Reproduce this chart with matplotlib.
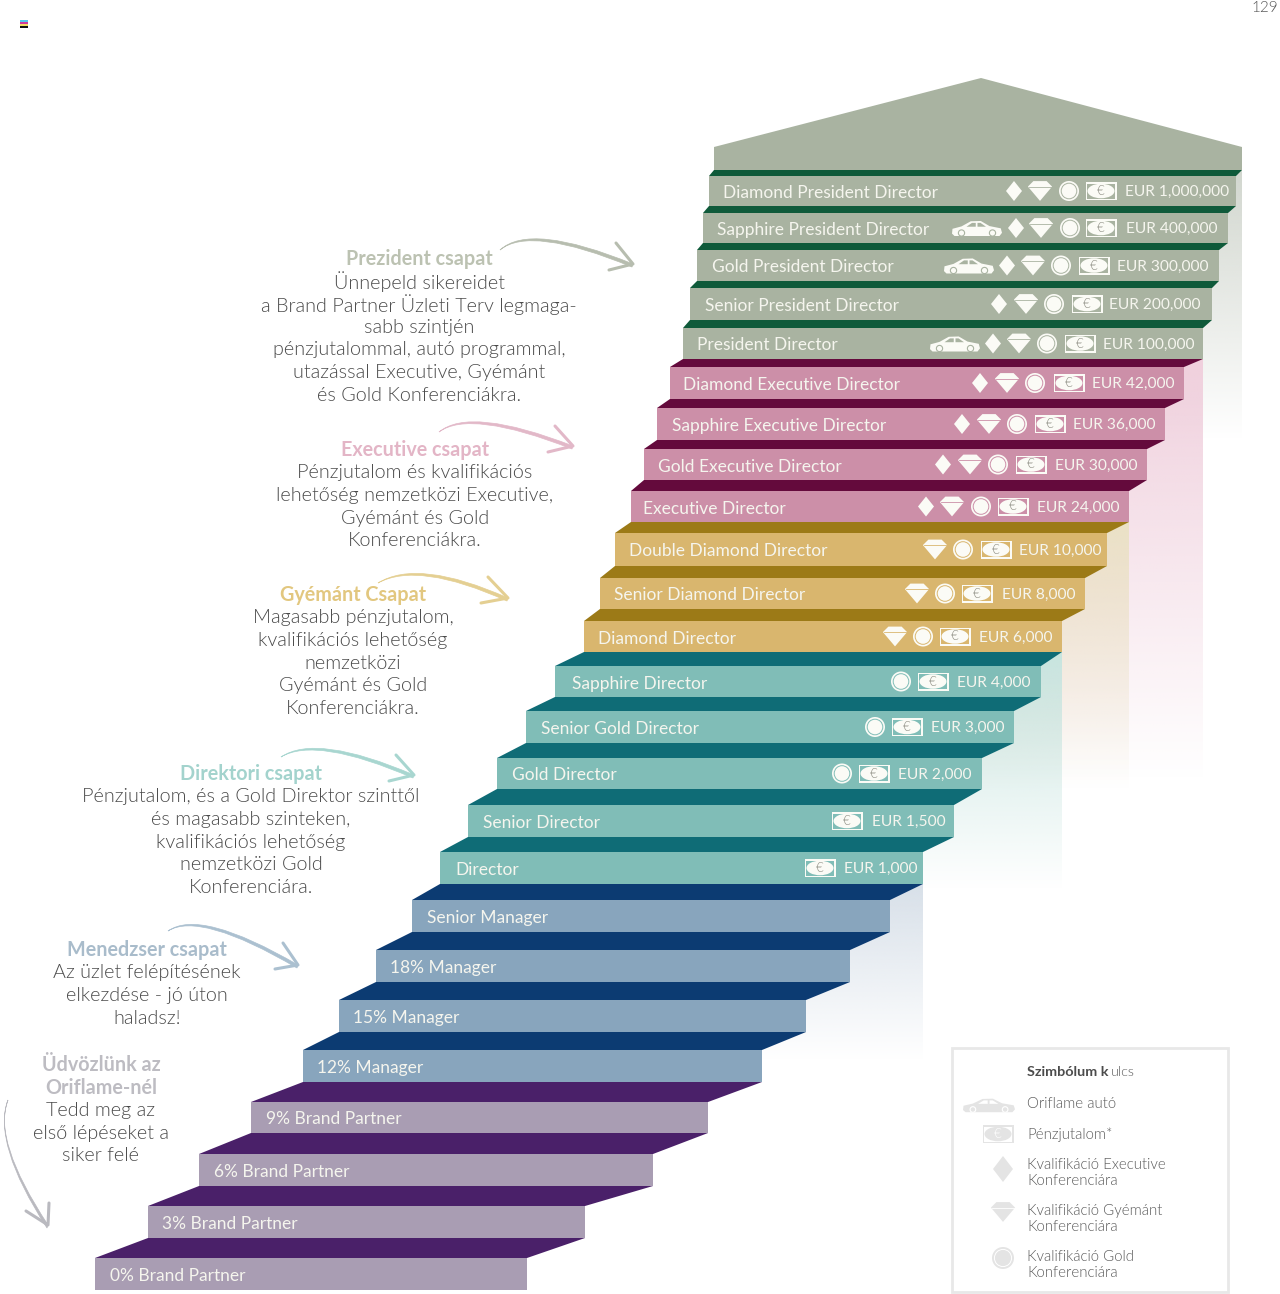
import numpy as np
import matplotlib
matplotlib.use("Agg")
import matplotlib.pyplot as plt
from matplotlib.colors import to_rgb
from matplotlib.patches import Polygon, Circle, Rectangle, PathPatch, Ellipse
from matplotlib.path import Path

plt.rcParams['font.family'] = ['Lato', 'DejaVu Sans']

# steps from top to bottom
ranks = ["Diamond President Director", "Sapphire President Director", "Gold President Director",
         "Senior President Director", "President Director", "Diamond Executive Director",
         "Sapphire Executive Director", "Gold Executive Director", "Executive Director",
         "Double Diamond Director", "Senior Diamond Director", "Diamond Director",
         "Sapphire Director", "Senior Gold Director", "Gold Director", "Senior Director", "Director",
         "Senior Manager", "18% Manager", "15% Manager", "12% Manager",
         "9% Brand Partner", "6% Brand Partner", "3% Brand Partner", "0% Brand Partner"]
amounts = ["EUR 1,000,000", "EUR 400,000", "EUR 300,000", "EUR 200,000", "EUR 100,000",
           "EUR 42,000", "EUR 36,000", "EUR 30,000", "EUR 24,000",
           "EUR 10,000", "EUR 8,000", "EUR 6,000",
           "EUR 4,000", "EUR 3,000", "EUR 2,000", "EUR 1,500", "EUR 1,000"]
groups = [0]*5 + [1]*4 + [2]*3 + [3]*5 + [4]*4 + [5]*4

step_left = [709, 703, 697, 690, 683, 670, 657, 644, 631, 615, 600, 584, 555, 526, 497, 468, 440,
             412, 376, 339, 303, 251, 199, 148, 95]
step_right = [1236, 1228, 1219, 1212, 1203, 1184, 1165, 1147, 1129, 1107, 1085, 1062, 1041, 1014,
              982, 954, 923, 890, 850, 806, 762, 708, 653, 585, 527]
step_top = [176, 213, 250, 288, 328, 367, 408, 449, 491, 533, 578, 621, 666, 711, 758, 805, 852,
            900, 950, 1000, 1050, 1102, 1154, 1206, 1258]
step_bottom = [206, 243, 281, 320, 359, 399, 440, 480, 522, 566, 609, 652, 697, 743, 789, 837, 884,
               932, 982, 1032, 1082, 1133, 1186, 1238, 1290]
label_x = [723, 717, 712, 705, 697, 683, 672, 658, 643, 629, 614, 598, 572, 541, 512, 483, 455,
           427, 390, 353, 317, 266, 214, 162, 110]

# icon positions per step, None where the rank has no such icon
note_x = [1101, 1101, 1094, 1087, 1080, 1069, 1050, 1031, 1013, 996, 977, 955, 933, 907, 874, 847, 820]
coin_x = [1069, 1070, 1061, 1054, 1047, 1035, 1017, 998, 981, 963, 945, 923, 901, 875, 842, None, None]
gem_x = [1040, 1041, 1033, 1026, 1019, 1007, 989, 970, 952, 935, 917, 895] + [None]*5
diamond_x = [1014, 1016, 1007, 999, 993, 980, 962, 943, 926] + [None]*8
car_x = [None, 977, 969, None, 955] + [None]*12
amount_x = [1125, 1126, 1117, 1109, 1103, 1092, 1073, 1055, 1037, 1019, 1002, 979, 957, 931, 898, 872, 844]

face_colors = ["#a9b3a1", "#cc8fa8", "#d9b66e", "#80bdb7", "#88a5bd", "#a99db3"]
tread_colors = ["#0f5a3a", "#640a3c", "#9c7a17", "#0f6c76", "#0c3b72", "#4a2069"]

# pale columns behind the stairs: left edge hidden by the steps, right edge, top, fade end, colour
glow_left = [800, 800, 800, 800, 700]
glow_right = [1242, 1203, 1129, 1062, 923]
glow_top = [170, 359, 522, 652, 884]
glow_end = [440, 780, 790, 890, 1060]
glow_colors = ["#d2d7cf", "#f0d0dd", "#ebe1c6", "#c8e5e0", "#d8e0e9"]

# text blocks: centre x, title lines, body lines, first line y
blocks = [
    (419, ["Prezident csapat"], ["Ünnepeld sikereidet", "a Brand Partner Üzleti Terv legmaga-", "sabb szintjén",
                                 "pénzjutalommal, autó programmal,", "utazással Executive, Gyémánt",
                                 "és Gold Konferenciákra."], 259, "#bcc2b2"),
    (415, ["Executive csapat"], ["Pénzjutalom és kvalifikációs", "lehetőség nemzetközi Executive,",
                                 "Gyémánt és Gold", "Konferenciákra."], 450, "#e3b5c6"),
    (353, ["Gyémánt Csapat"], ["Magasabb pénzjutalom,", "kvalifikációs lehetőség", "nemzetközi",
                               "Gyémánt és Gold", "Konferenciákra."], 595, "#e2c77f"),
    (251, ["Direktori csapat"], ["Pénzjutalom, és a Gold Direktor szinttől", "és magasabb szinteken,",
                                 "kvalifikációs lehetőség", "nemzetközi Gold", "Konferenciára."], 774, "#a3d3cd"),
    (147, ["Menedzser csapat"], ["Az üzlet felépítésének", "elkezdése - jó úton", "haladsz!"], 950, "#a9bccb"),
    (101, ["Üdvözlünk az", "Oriflame-nél"], ["Tedd meg az", "első lépéseket a", "siker felé"], 1065, "#bdbcc2"),
]

# arrows: tail, control, tip, two head barbs, colour
arrows = [
    ((500, 250), (530, 222), (633, 264), (616, 243), (609, 270), "#b7bdaf"),
    ((439, 432), (470, 406), (573, 446), (555, 426), (548, 452), "#e2b8c8"),
    ((378, 583), (418, 558), (508, 598), (488, 577), (481, 603), "#e4cf92"),
    ((281, 757), (316, 733), (414, 775), (396, 755), (389, 781), "#a8d6d0"),
    ((168, 931), (200, 908), (298, 965), (283, 943), (275, 969), "#abc0d0"),
    ((8, 1100), (-8, 1140), (48, 1225), (49, 1203), (26, 1211), "#b9b9bf"),
]

legend_labels = ["Oriflame autó", "Pénzjutalom*", "Kvalifikáció Executive\nKonferenciára",
                 "Kvalifikáció Gyémánt\nKonferenciára", "Kvalifikáció Gold\nKonferenciára"]
legend_y = [1103, 1134, 1172, 1218, 1264]
LEGEND_GREY = "#e4e4e4"
ICON_WHITE = "#fbfbf6"
LABEL_WHITE = "#f5f5ee"
BODY_GREY = "#4a4a4a"

fig = plt.figure(figsize=(12.8, 12.94), dpi=100)
ax = fig.add_axes([0, 0, 1, 1])
ax.set_xlim(0, 1280)
ax.set_ylim(1294, 0)
ax.axis("off")


def draw_diamond(x, y, col, w=8, h=10):
    ax.add_patch(Polygon([(x - w, y), (x, y - h), (x + w, y), (x, y + h)], fc=col, ec="none", zorder=6))


def draw_gem(x, y, col, bg, s=1.1):
    ax.add_patch(Polygon([(x - 11*s, y - 4*s), (x - 6*s, y - 9*s), (x + 6*s, y - 9*s), (x + 11*s, y - 4*s), (x, y + 9*s)],
                         fc=col, ec="none", zorder=6))
    ax.plot([x - 10*s, x + 10*s], [y - 4*s, y - 4*s], color=bg, lw=0.6, zorder=7)


def draw_coin(x, y, col, bg, r=10):
    ax.add_patch(Circle((x, y), r, fc=col, ec="none", zorder=6))
    ax.add_patch(Circle((x, y), r*0.78, fc=col, ec=bg, lw=0.7, zorder=7))


def draw_note(x, y, col, bg, euro="#8e8e84"):
    ax.add_patch(Rectangle((x - 15.5, y - 9), 31, 18, fc=col, ec="none", zorder=6))
    ax.add_patch(Rectangle((x - 14, y - 7.5), 28, 15, fc=bg, ec="none", zorder=7))
    ax.add_patch(Ellipse((x, y), 27, 14.5, fc=col, ec="none", zorder=8))
    ax.text(x, y, "€", color=euro, fontsize=9.5, fontweight=300, ha="center", va="center", zorder=9)


def draw_car(x, y, col, bg, w=25, h=10):
    body = np.array([(-1, .35), (-.98, .05), (-.62, -.1), (-.25, -.42), (.15, -.44), (.5, -.12), (.95, .02),
                     (1, .3), (.9, .5), (-.9, .5)])
    ax.add_patch(Polygon(body*[w, h*1.6] + [x, y], fc=col, ec="none", zorder=6))
    ax.add_patch(Polygon(np.array([(-.42, -.08), (-.2, -.32), (-.05, -.32), (-.05, -.08)])*[w, h*1.6] + [x, y], fc=bg, ec="none", zorder=7))
    ax.add_patch(Polygon(np.array([(.02, -.08), (.02, -.32), (.14, -.32), (.36, -.08)])*[w, h*1.6] + [x, y], fc=bg, ec="none", zorder=7))
    for wx in (-.62, .62):
        ax.add_patch(Circle((x + wx*w, y + .5*h), .26*h*1.2, fc=col, ec=bg, lw=0.8, zorder=8))


# pale gradient columns
for left, right, top, end, col in zip(glow_left, glow_right, glow_top, glow_end, glow_colors):
    rgba = np.ones((128, 2, 4))
    rgba[:, :, :3] = to_rgb(col)
    rgba[:, 0, 3] = np.linspace(1, 0, 128)
    rgba[:, 1, 3] = np.linspace(1, 0, 128)
    ax.imshow(rgba, extent=(left, right, end, top), aspect="auto", zorder=1, interpolation="bilinear")
ax.set_xlim(0, 1280)
ax.set_ylim(1294, 0)

# roof
ax.add_patch(Polygon([(714, 147), (981, 78), (1242, 147), (1242, 170), (714, 170)], fc=face_colors[0], ec="none", zorder=3))

# stairs
for i, rank in enumerate(ranks):
    g = groups[i]
    face = face_colors[g]
    prev_l = step_left[i - 1] if i else 714
    prev_r = step_right[i - 1] if i else 1242
    prev_b = step_bottom[i - 1] if i else 170
    ax.add_patch(Polygon([(prev_l, prev_b), (prev_r, prev_b), (step_right[i], step_top[i]), (step_left[i], step_top[i])],
                         fc=tread_colors[g], ec="none", zorder=4))
    ax.add_patch(Rectangle((step_left[i], step_top[i]), step_right[i] - step_left[i], step_bottom[i] - step_top[i],
                           fc=face, ec="none", zorder=5))
    ymid = (step_top[i] + step_bottom[i]) / 2
    ax.text(label_x[i], ymid + 2, rank, color=LABEL_WHITE, fontsize=12.5, ha="left", va="center", zorder=6)
    if i < len(amounts):
        ax.text(amount_x[i], ymid + 1, amounts[i], color=LABEL_WHITE, fontsize=11.2, ha="left", va="center", zorder=6)
        draw_note(note_x[i], ymid, ICON_WHITE, face)
        if coin_x[i] is not None:
            draw_coin(coin_x[i], ymid, ICON_WHITE, face)
        if gem_x[i] is not None:
            draw_gem(gem_x[i], ymid, ICON_WHITE, face)
        if diamond_x[i] is not None:
            draw_diamond(diamond_x[i], ymid, ICON_WHITE)
        if car_x[i] is not None:
            draw_car(car_x[i], ymid, ICON_WHITE, face)

# side text
for cx, titles, body, y0, col in blocks:
    y = y0
    for line in titles:
        ax.text(cx, y, line, color=col, fontsize=14.2, fontweight="bold", ha="center", va="center", zorder=6)
        y += 22.7
    for line in body:
        ax.text(cx, y, line, color=BODY_GREY, fontsize=14.2, fontweight=300, ha="center", va="center", zorder=6)
        y += 22.7

# hand drawn arrows
for tail, ctrl, tip, b1, b2, col in arrows:
    verts = [tail, ctrl, tip, (tip[0] - 1, tip[1] + 3), (ctrl[0], ctrl[1] + 3), tail]
    codes = [Path.MOVETO, Path.CURVE3, Path.CURVE3, Path.LINETO, Path.CURVE3, Path.CURVE3]
    ax.add_patch(PathPatch(Path(verts, codes), fc=col, ec=col, lw=0.5, zorder=6))
    ax.plot([b1[0], tip[0], b2[0]], [b1[1], tip[1], b2[1]], color=col, lw=2.2, solid_capstyle="round", zorder=6)

# symbol key
ax.add_patch(Rectangle((952, 1048), 276, 244, fc="white", ec="#e8e8e8", lw=2, zorder=5))
ax.text(1027, 1072, "Szimbólum k", color="#4c4c4c", fontsize=10.4, fontweight="bold", ha="left", va="center", zorder=6)
ax.text(1111, 1072, "ulcs", color="#5e5e5e", fontsize=10.4, fontweight=300, ha="left", va="center", zorder=6)
for label, y in zip(legend_labels, legend_y):
    ax.text(1027, y + 1, label, color="#5a5a5a", fontsize=10.8, fontweight=300, ha="left", va="center", linespacing=1.15, zorder=6)
draw_car(989, legend_y[0] + 2, LEGEND_GREY, "white", w=26, h=9)
draw_note(998, legend_y[1], LEGEND_GREY, "white", euro="white")
draw_diamond(1003, legend_y[2] - 3, LEGEND_GREY, w=10, h=13)
draw_gem(1003, legend_y[3] - 6, LEGEND_GREY, "white", s=1.1)
draw_coin(1003, legend_y[4] - 6, LEGEND_GREY, "white", r=11)

# printer marks and page number
for k, col in enumerate(["#55c8ee", "#d03a9c", "#f4dc64", "#111111"]):
    ax.add_patch(Rectangle((20, 20 + k*2), 8, 2, fc=col, ec="none", zorder=6))
ax.text(1278, 8, "129", color="#555555", fontsize=11, fontweight=300, ha="right", va="center")

fig.savefig("out.png", dpi=100)
